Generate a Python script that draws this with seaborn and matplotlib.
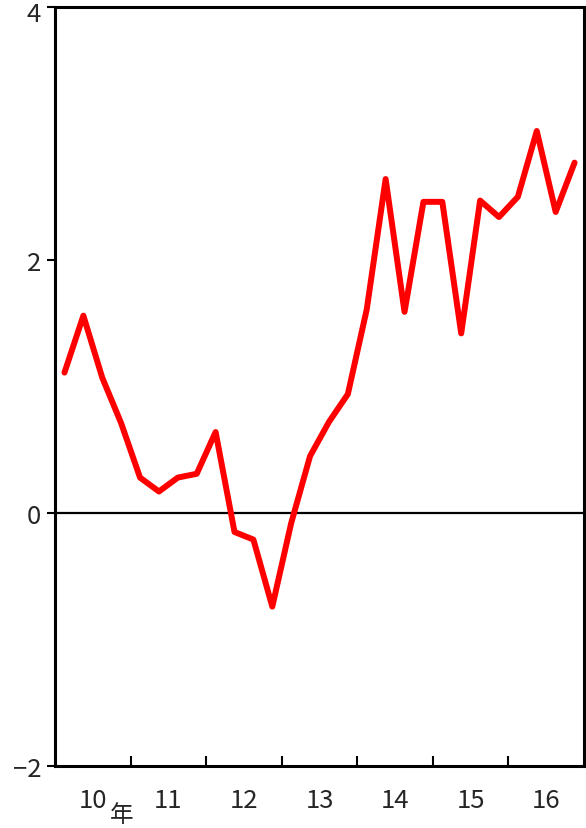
import numpy as np
import pandas as pd
import matplotlib
matplotlib.use("Agg")
import matplotlib.pyplot as plt
import matplotlib.transforms as mtransforms
import seaborn as sns

# quarterly values, 2010Q1 .. 2016Q4
values = [1.11, 1.56, 1.07, 0.71, 0.28, 0.17, 0.28, 0.31,
          0.64, -0.15, -0.21, -0.74, -0.08, 0.45, 0.72, 0.94,
          1.61, 2.64, 1.59, 2.46, 2.46, 1.42, 2.47, 2.34,
          2.50, 3.02, 2.38, 2.77]
year_labels = ["10", "11", "12", "13", "14", "15", "16"]
y_ticks = [-2, 0, 2, 4]

d = pd.DataFrame({"q": np.arange(len(values)) + 0.5, "v": values})

sns.set_style("white")
plt.rcParams['font.family'] = ['Noto Sans CJK JP', 'DejaVu Sans']

fig = plt.figure(figsize=(5.86, 8.29), dpi=100)
ax = fig.add_axes([0.0939, 0.0748, 0.9027, 0.9155])

sns.lineplot(data=d, x="q", y="v", ax=ax, color="#ff0000", linewidth=4.3)
ax.axhline(0, color="black", linewidth=1.6, zorder=1)

ax.set_xlim(0, 28)
ax.set_ylim(-2, 4)
ax.set_xlabel("")
ax.set_ylabel("")

for s in ax.spines.values():
    s.set_visible(True)
    s.set_color("black")
    s.set_linewidth(2.2)

# y ticks outward
ax.set_yticks(y_ticks)
ax.set_yticklabels(["\u22122", "0", "2", "4"])
ax.tick_params(axis="y", left=True, direction="out", length=6, width=1.5,
               color="black", labelsize=18.5, pad=4)
# top label sits a little lower so it is not cut at the edge
top_lab = ax.get_yticklabels()[-1]
top_lab.set_transform(top_lab.get_transform() +
                      mtransforms.ScaledTranslation(0, -3 / 72, fig.dpi_scale_trans))

# year boundaries as inward ticks, labels centered in each year
ax.set_xticks([4, 8, 12, 16, 20, 24])
ax.set_xticklabels([])
ax.set_xticks([2 + 4 * i for i in range(len(year_labels))], minor=True)
ax.set_xticklabels(year_labels, minor=True)
ax.tick_params(axis="x", which="major", bottom=True, direction="in",
               length=7, width=1.5, color="black")
ax.tick_params(axis="x", which="minor", bottom=True, length=0,
               labelsize=18.5, pad=15)

trans = mtransforms.blended_transform_factory(ax.transData, ax.transAxes)
ax.text(3.55, -0.064, "年", transform=trans, fontsize=17, ha="center", va="center")

fig.savefig("out.png", dpi=100)
